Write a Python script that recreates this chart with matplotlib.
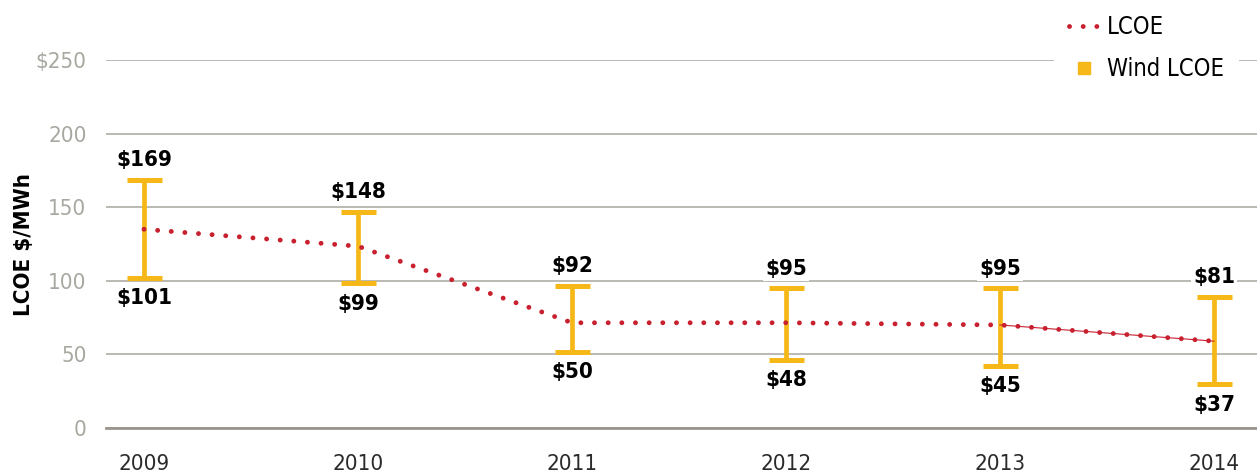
import matplotlib
matplotlib.use("Agg")
from matplotlib import pyplot as plt
from matplotlib.lines import Line2D
import numpy as np

# dados
anos = ["2009", "2010", "2011", "2012", "2013", "2014"]
lcoe = [135, 123.5, 71.5, 71.5, 70, 59]
vento_max = [168.7, 147, 96.6, 94.8, 94.8, 89.3]
vento_min = [102.2, 98.6, 51.9, 46.5, 42.4, 30.1]
rotulo_max = ["$169", "$148", "$92", "$95", "$95", "$81"]
rotulo_min = ["$101", "$99", "$50", "$48", "$45", "$37"]
yticks = [0, 50, 100, 150, 200, 250]
ytick_labels = ["0", "50", "100", "150", "200", "$250"]

vermelho = "#C8202F"
amarelo = "#F6B718"
cinza = "#AEADA5"

plt.rcParams["font.family"] = ["DejaVu Sans"]
plt.rcParams["font.stretch"] = "condensed"

fig = plt.figure(figsize=(12.57, 4.74), dpi=100)
ax = fig.add_axes([106 / 1257, 1 - 428 / 474, 1 - 106 / 1257, (428 - 60) / 474])

x = np.arange(len(anos))
vmax = np.array(vento_max)
vmin = np.array(vento_min)
meio = (vmax + vmin) / 2
ax.errorbar(x, meio, yerr=(vmax - vmin) / 2, fmt="none", ecolor=amarelo,
            elinewidth=3.4, capsize=12.6, capthick=3.6, zorder=3, clip_on=False)

# linha LCOE pontilhada
ax.plot(x, lcoe, color=vermelho, lw=3.5, linestyle=(0, (0.01, 2.8)),
        dash_capstyle="round", zorder=4)
ax.plot(x[4:], lcoe[4:], color=vermelho, lw=0.8, zorder=4)

for i in range(len(anos)):
    ax.annotate(rotulo_max[i], (x[i], vmax[i]), xytext=(0, 14), textcoords="offset points",
                ha="center", va="center", fontsize=16, fontweight="bold", color="black",
                bbox=dict(boxstyle="square,pad=0.1", fc="white", ec="none"), zorder=5)
    ax.annotate(rotulo_min[i], (x[i], vmin[i]), xytext=(0, -15), textcoords="offset points",
                ha="center", va="center", fontsize=16, fontweight="bold", color="black",
                bbox=dict(boxstyle="square,pad=0.1", fc="white", ec="none"), zorder=5)

ax.set_xlim(-38 / 214, 5 + 43 / 214)
ax.set_ylim(0, 250)
ax.set_xticks(x)
ax.set_xticklabels(anos)
ax.set_yticks(yticks)
ax.set_yticklabels(ytick_labels)
ax.tick_params(axis="x", length=0, pad=19, labelsize=16, labelcolor="#2A2A2A")
ax.tick_params(axis="y", length=0, pad=14, labelsize=16, labelcolor="#A8A8A0")
ax.grid(axis="y", color=cinza, lw=1.2)
ax.set_axisbelow(True)
for s in ["top", "right", "left"]:
    ax.spines[s].set_visible(False)
ax.spines["bottom"].set_color("#9A968D")
ax.spines["bottom"].set_linewidth(2)
ax.set_ylabel("LCOE $/MWh", fontsize=16, fontweight="bold")
ax.yaxis.set_label_coords(-(106 - 34) / 1151, 0.5)

handles = [
    Line2D([], [], color=vermelho, lw=3.5, linestyle=(0, (0.01, 2.8)), dash_capstyle="round"),
    Line2D([], [], color=amarelo, lw=0, marker="s", markersize=9),
]
leg = ax.legend(handles, ["LCOE", "Wind LCOE"], loc="upper right",
                bbox_to_anchor=(1239 / 1257, 1.0), bbox_transform=fig.transFigure,
                fontsize=17, frameon=True, facecolor="white", edgecolor="none",
                framealpha=1, borderaxespad=0, handlelength=1.3, handletextpad=0.3,
                labelspacing=0.75, borderpad=0.65, fancybox=False)
leg.set_zorder(10)

fig.savefig("out.png", dpi=100)
